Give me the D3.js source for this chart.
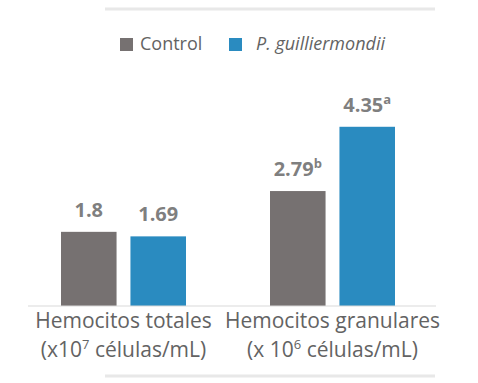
<!DOCTYPE html>
<html>
<head>
<meta charset="utf-8">
<script src="https://cdn.jsdelivr.net/npm/d3@7"></script>
<style>
  body { margin: 0; background: #fff; }
  text { font-family: "Open Sans", sans-serif; }
</style>
</head>
<body>
<div id="chart"></div>
<script>
// data
var categories = ["Hemocitos totales", "Hemocitos granulares"];
var units = [["(x10", "7", " células/mL)"], ["(x 10", "6", " células/mL)"]];
var series = ["Control", "P. guilliermondii"];
var control = [1.8, 2.79];
var pguill = [1.69, 4.35];
var controlLabels = ["1.8", "2.79"];
var controlSup = ["", "b"];
var pguillLabels = ["1.69", "4.35"];
var pguillSup = ["", "a"];

var colors = ["#767171", "#2a8bc0"];
var width = 478, height = 383;

var svg = d3.select("#chart").append("svg")
    .attr("width", width)
    .attr("height", height);

// frame lines top and bottom
svg.append("line").attr("x1", 105).attr("x2", 435).attr("y1", 9).attr("y2", 9)
    .attr("stroke", "#e8e8e8").attr("stroke-width", 3);
svg.append("line").attr("x1", 105).attr("x2", 435).attr("y1", 376).attr("y2", 376)
    .attr("stroke", "#e8e8e8").attr("stroke-width", 3);

var x0 = d3.scaleBand().domain(categories).range([19, 437]);
var x1 = d3.scaleBand().domain(series).range([42, 167]).paddingInner(0.2);
var y = d3.scaleLinear().domain([0, 5]).range([306, 100]);

var rows = categories.map(function(c, i) {
  return {cat: c, vals: [
    {s: series[0], v: control[i], lab: controlLabels[i], sup: controlSup[i]},
    {s: series[1], v: pguill[i], lab: pguillLabels[i], sup: pguillSup[i]}
  ]};
});

var groups = svg.selectAll("g.grp").data(rows).enter().append("g")
    .attr("class", "grp")
    .attr("transform", function(d) { return "translate(" + x0(d.cat) + ",0)"; });

groups.selectAll("rect").data(function(d) { return d.vals; }).enter().append("rect")
    .attr("x", function(d) { return x1(d.s); })
    .attr("width", x1.bandwidth())
    .attr("y", function(d) { return y(d.v); })
    .attr("height", function(d) { return y(0) - y(d.v); })
    .attr("fill", function(d, i) { return colors[i]; });

var vl = groups.selectAll("text.val").data(function(d) { return d.vals; }).enter().append("text")
    .attr("class", "val")
    .attr("x", function(d) { return x1(d.s) + x1.bandwidth() / 2; })
    .attr("y", function(d) { return y(d.v) - 15; })
    .attr("text-anchor", "middle")
    .attr("fill", "#7f7f7f")
    .attr("font-weight", "bold")
    .attr("font-size", 20);
vl.append("tspan").text(function(d) { return d.lab; });
vl.append("tspan").attr("dy", -8).attr("font-size", 13)
    .text(function(d) { return d.sup; });

// axis
svg.append("line").attr("x1", 28).attr("x2", 436).attr("y1", y(0)).attr("y2", y(0))
    .attr("stroke", "#d9d9d9").attr("stroke-width", 1);

var xAxisGroup = svg.append("g").attr("transform", "translate(0," + y(0) + ")");
var xAxis = d3.axisBottom(x0).tickSize(0).tickPadding(0).tickFormat("");
xAxisGroup.call(xAxis);
xAxisGroup.select(".domain").remove();

var ticks = xAxisGroup.selectAll(".tick");
ticks.append("text")
    .attr("y", 22)
    .attr("text-anchor", "middle")
    .attr("fill", "#636363")
    .attr("font-size", 21)
    .text(function(d) { return d; });
var u = ticks.append("text")
    .attr("y", 51)
    .attr("text-anchor", "middle")
    .attr("fill", "#636363")
    .attr("font-size", 21);
u.append("tspan").text(function(d, i) { return units[i][0]; });
u.append("tspan").attr("dy", -8).attr("font-size", 13).text(function(d, i) { return units[i][1]; });
u.append("tspan").attr("dy", 8).text(function(d, i) { return units[i][2]; });

// legend
var legendX = [120, 229];
var leg = svg.selectAll("g.leg").data(series).enter().append("g")
    .attr("class", "leg")
    .attr("transform", function(d, i) { return "translate(" + legendX[i] + ",38)"; });
leg.append("rect").attr("width", 13).attr("height", 13)
    .attr("fill", function(d, i) { return colors[i]; });
leg.append("text")
    .attr("x", function(d, i) { return i === 0 ? 20 : 27; })
    .attr("y", 12)
    .attr("fill", "#636363")
    .attr("font-size", 18)
    .attr("font-style", function(d, i) { return i === 1 ? "italic" : "normal"; })
    .text(function(d) { return d; });
</script>
</body>
</html>
